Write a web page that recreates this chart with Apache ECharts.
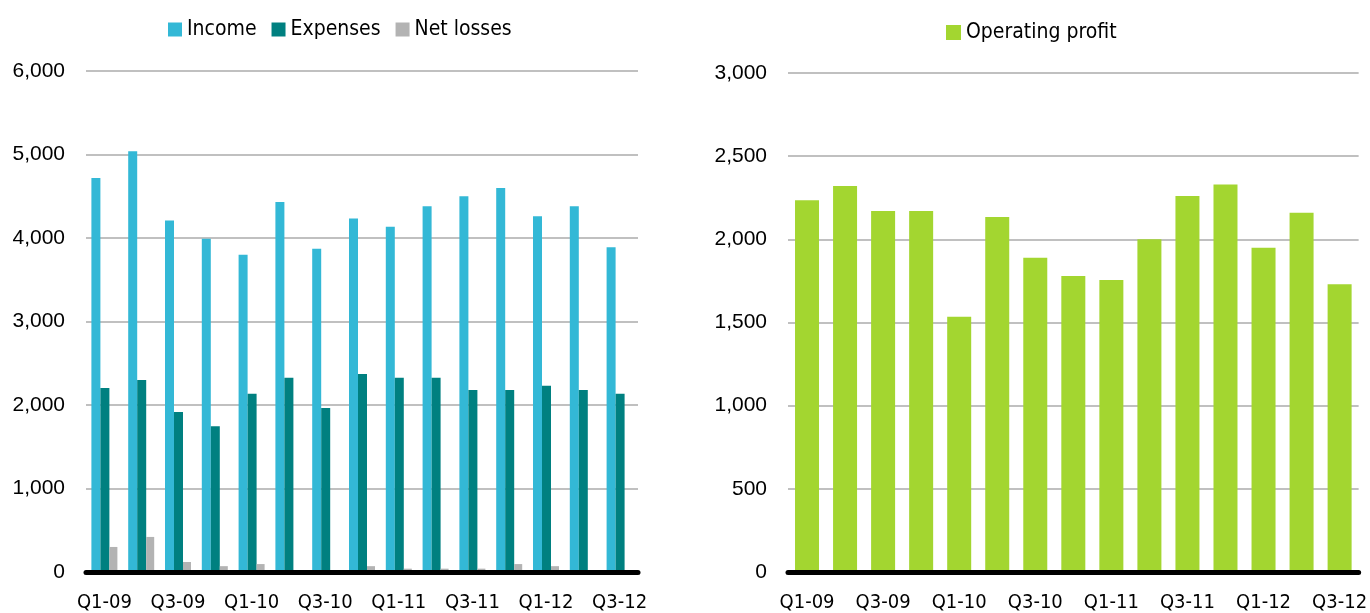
<!DOCTYPE html>
<html>
<head>
<meta charset="utf-8">
<script src="https://cdn.jsdelivr.net/npm/echarts@6/dist/echarts.min.js"></script>
<style>
  html, body { margin: 0; padding: 0; background: #fff; }
  #main { width: 1370px; height: 613px; }
</style>
</head>
<body>
<div id="main"></div>
<script>
var quarters = ['Q1-09', 'Q2-09', 'Q3-09', 'Q4-09', 'Q1-10', 'Q2-10', 'Q3-10', 'Q4-10',
  'Q1-11', 'Q2-11', 'Q3-11', 'Q4-11', 'Q1-12', 'Q2-12', 'Q3-12'];
var income = [4720, 5040, 4210, 3990, 3800, 4430, 3870, 4235, 4135, 4380, 4500, 4600, 4260, 4380, 3890];
var expenses = [2205, 2300, 1915, 1745, 2135, 2325, 1965, 2370, 2325, 2325, 2180, 2180, 2230, 2180, 2135];
var netLosses = [300, 420, 120, 70, 95, 0, 0, 70, 40, 40, 40, 95, 70, 0, 0];
var operatingProfit = [2235, 2320, 2170, 2170, 1535, 2135, 1890, 1780, 1755, 2000, 2260, 2330, 1950, 2160, 1730];

var cond = { color: '#000', fontFamily: 'DejaVu Sans Condensed', fontSize: 21 };
var xlab = { color: '#000', fontFamily: 'DejaVu Sans Condensed', fontSize: 20 };
var regular = { color: '#000', fontFamily: 'Liberation Sans', fontSize: 21 };

function fmt(v) { return v.toString().replace(/\B(?=(\d{3})+(?!\d))/g, ','); }

function xAx(idx) {
  return {
    type: 'category', gridIndex: idx, data: quarters, z: 5,
    axisLine: { lineStyle: { color: '#000', width: 5, cap: 'round' } },
    axisTick: { show: false },
    axisLabel: Object.assign({ interval: 1, margin: 21 }, xlab)
  };
}
function yAx(idx, max, step) {
  return {
    type: 'value', gridIndex: idx, min: 0, max: max, interval: step,
    axisLine: { show: false }, axisTick: { show: false },
    splitLine: { lineStyle: { color: '#c0c0c0', width: 2 } },
    axisLabel: Object.assign({ margin: 21, formatter: fmt }, regular)
  };
}

var chart = echarts.init(document.getElementById('main'));
chart.setOption({
  animation: false,
  legend: [
    { left: 163, top: 14, icon: 'rect', itemWidth: 14, itemHeight: 14, itemGap: 15,
      textStyle: cond, data: ['Income', 'Expenses', 'Net losses'] },
    { left: 941, top: 17, icon: 'rect', itemWidth: 15, itemHeight: 15,
      textStyle: cond, data: ['Operating profit'] }
  ],
  grid: [
    { left: 86, right: 732, top: 71, bottom: 41 },
    { left: 788, right: 8, top: 73, bottom: 41 }
  ],
  xAxis: [xAx(0), xAx(1)],
  yAxis: [yAx(0, 6000, 1000), yAx(1, 3000, 500)],
  series: [
    { name: 'Income', type: 'bar', xAxisIndex: 0, yAxisIndex: 0, data: income,
      barWidth: 9, barGap: '0%', itemStyle: { color: '#33b8d6' } },
    { name: 'Expenses', type: 'bar', xAxisIndex: 0, yAxisIndex: 0, data: expenses,
      barWidth: 9, barGap: '0%', itemStyle: { color: '#008080' } },
    { name: 'Net losses', type: 'bar', xAxisIndex: 0, yAxisIndex: 0, data: netLosses,
      barWidth: 8, barGap: '0%', itemStyle: { color: '#b3b3b3' } },
    { name: 'Operating profit', type: 'bar', xAxisIndex: 1, yAxisIndex: 1, data: operatingProfit,
      barWidth: 24, itemStyle: { color: '#a3d630' } }
  ]
});
</script>
</body>
</html>
